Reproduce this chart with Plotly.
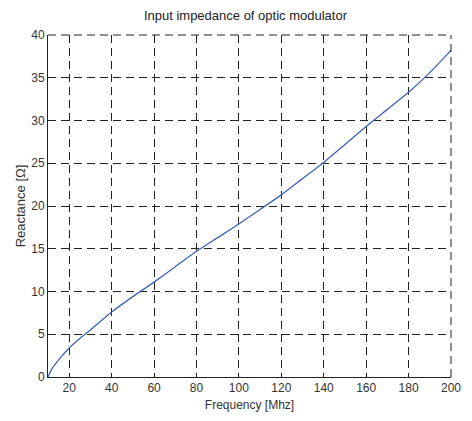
import plotly.graph_objects as go

# Modulator input reactance vs. frequency
freq_mhz = [10, 12, 15, 20, 25, 30, 40, 50, 60, 70, 80, 90, 100,
            110, 120, 130, 140, 150, 160, 170, 180, 190, 200]
reactance_ohm = [0.0, 1.0, 2.0, 3.4, 4.5, 5.5, 7.6, 9.4, 11.1, 12.9, 14.7, 16.3, 17.9,
                 19.6, 21.3, 23.2, 25.1, 27.2, 29.3, 31.3, 33.3, 35.6, 38.2]

x_ticks = [20, 40, 60, 80, 100, 120, 140, 160, 180, 200]
y_ticks = [0, 5, 10, 15, 20, 25, 30, 35, 40]

font_family = "Liberation Sans, Arial, sans-serif"
grid_dash = "8px,5px"

fig = go.Figure()
fig.add_trace(go.Scatter(
    x=freq_mhz, y=reactance_ohm, mode="lines",
    line=dict(color="#3d63b5", width=1.3, shape="spline", smoothing=0.6),
    showlegend=False,
))

axis_common = dict(
    showgrid=True, gridcolor="#222", griddash=grid_dash, gridwidth=1,
    ticks="inside", ticklen=4, tickcolor="#222",
    showline=True, linecolor="#222", linewidth=1, mirror=False,
    zeroline=False,
    tickfont=dict(family=font_family, size=12, color="#333"),
)

# dashed top and right borders of the axes box (grid at the range ends)
fig.add_shape(type="line", xref="paper", yref="paper", x0=0, x1=1, y0=1, y1=1,
              line=dict(color="#222", width=1, dash=grid_dash))
fig.add_shape(type="line", xref="paper", yref="paper", x0=1, x1=1, y0=0, y1=1,
              line=dict(color="#222", width=1, dash=grid_dash))

fig.update_layout(
    width=472, height=421,
    margin=dict(l=48, r=11, t=35, b=40),
    paper_bgcolor="white", plot_bgcolor="white",
    title=dict(text="Input impedance of optic modulator", x=0.52, xanchor="center",
               y=0.975, yanchor="top",
               font=dict(family=font_family, size=13, color="#222")),
    xaxis=dict(range=[10, 200], tickvals=x_ticks,
               title=dict(text="Frequency [Mhz]", standoff=6,
                          font=dict(family=font_family, size=12, color="#333")),
               **axis_common),
    yaxis=dict(range=[0, 40], tickvals=y_ticks,
               title=dict(text="Reactance [Ω]", standoff=2,
                          font=dict(family=font_family, size=13, color="#333")),
               **axis_common),
)

fig.write_html("out.html")
